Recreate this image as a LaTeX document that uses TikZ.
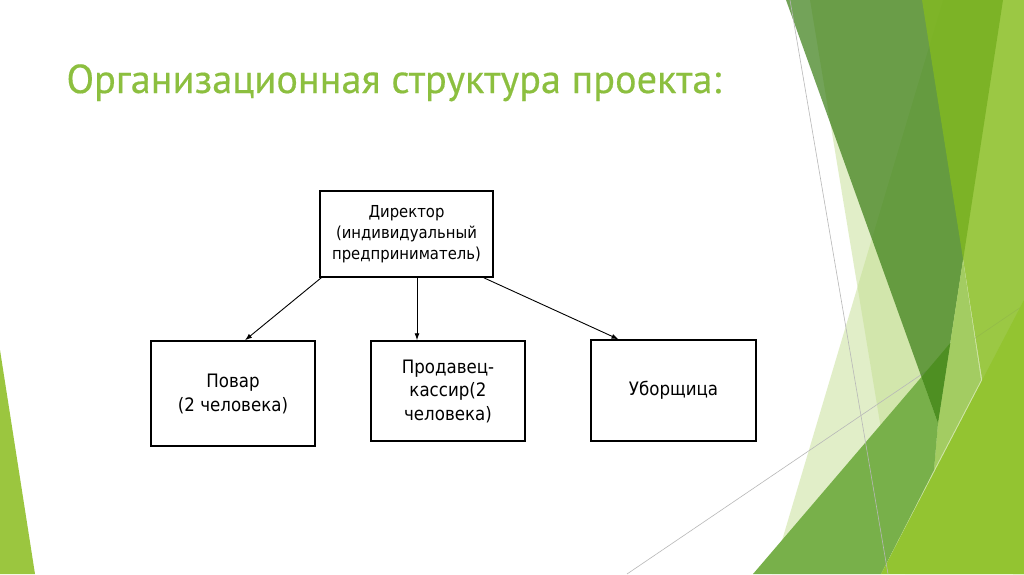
\documentclass[tikz,border=0pt]{standalone}
\usepackage{fontspec}
\setmainfont[FakeStretch=0.9]{DejaVu Sans}
\newfontfamily\titlefont[FakeBold=0.4]{PT Sans}
\usetikzlibrary{arrows.meta}

\definecolor{titlegreen}{HTML}{8CBF3F}
\definecolor{palegreen}{HTML}{C5DF92}
\definecolor{darkgreen}{HTML}{387C13}
\definecolor{yellowgreen}{HTML}{86BD1D}
\definecolor{lightgreen}{HTML}{A3CC62}
\definecolor{midgreen}{HTML}{78B04A}
\definecolor{deepgreen}{HTML}{4E8F22}
\definecolor{limegreen}{HTML}{93C431}
\definecolor{leftgreen}{HTML}{9BC63F}

\begin{document}
\begin{tikzpicture}[x=1pt,y=-1pt,
    box/.style={draw=black,line width=1.5pt,fill=white,align=center,inner sep=0pt},
    arr/.style={-{Latex[length=7pt,width=5pt]},line width=0.9pt},
    thin line/.style={draw=black!28,line width=0.6pt}]
\useasboundingbox (0,0) rectangle (1024,574);
\fill[white] (0,0) rectangle (1024,574);

% background facets
\fill[palegreen,fill opacity=0.5] (943,0) -- (1024,0) -- (1024,574) -- (772,574) -- cycle;
\fill[palegreen,fill opacity=0.5] (810,0) -- (1024,0) -- (1024,574) -- (905,574) -- cycle;
\draw[thin line] (627,574) -- (1024,305);
\fill[darkgreen,fill opacity=0.7] (786,0) -- (1003,0) -- (938,423) -- cycle;
\fill[yellowgreen,fill opacity=0.72] (922,0) -- (1024,0) -- (1024,574) -- (1013,574) -- cycle;
\fill[lightgreen] (963,260) -- (981,380) -- (934,470) -- (938,423) -- cycle;
\fill[midgreen] (753,574) -- (921.5,377) -- (938,423) -- (934,470) -- (881,574) -- cycle;
\fill[deepgreen] (921.5,377) -- (950.3,343) -- (938,423) -- cycle;
\fill[limegreen] (881,574) -- (1024,300) -- (1024,574) -- cycle;
\draw[thin line] (790,0) -- (888,574);
\fill[leftgreen] (0,350) -- (0,574) -- (35,574) -- cycle;

\node[anchor=base west,text=titlegreen,font=\titlefont\fontsize{40.3}{46}\selectfont] (title) at (63,93) {Организационная структура проекта:};

\node[box,minimum width=173pt,minimum height=86pt,font=\fontsize{16.5}{21}\selectfont] (dir) at (406.5,234)
  {Директор\\(индивидуальный\\предприниматель)};
\node[box,minimum width=164pt,minimum height=105pt,font=\fontsize{18.5}{24}\selectfont] (povar) at (233,393.5)
  {Повар\\(2 человека)};
\node[box,minimum width=154pt,minimum height=100pt,font=\fontsize{18.5}{23.5}\selectfont] (prod) at (448,391)
  {Продавец-\\кассир(2\\человека)};
\node[box,minimum width=165pt,minimum height=101pt,font=\fontsize{18.5}{24}\selectfont] (ubor) at (673.5,390.5)
  {Уборщица};

\draw[arr] ([xshift=2pt]dir.south west) -- ([xshift=12pt]povar.north);
\draw[arr] ([xshift=10.5pt]dir.south) -- ([xshift=-31pt]prod.north);
\draw[arr] ([xshift=-10pt]dir.south east) -- ([xshift=-55pt]ubor.north);
\end{tikzpicture}
\end{document}
